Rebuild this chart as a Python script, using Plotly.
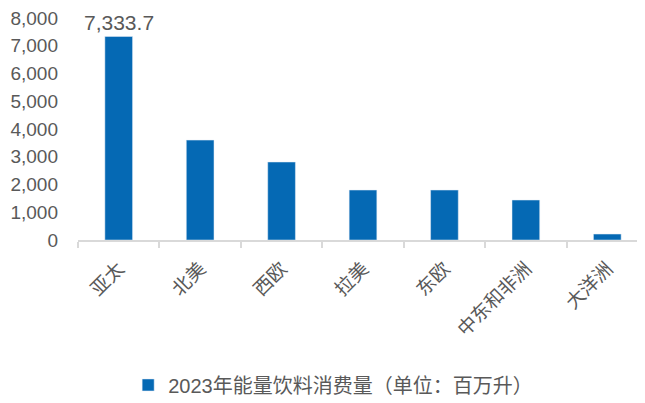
import plotly.graph_objects as go

categories = ["亚太", "北美", "西欧", "拉美", "东欧", "中东和非洲", "大洋洲"]
values = [7333.7, 3600, 2810, 1800, 1800, 1440, 215]
series_name = "2023年能量饮料消费量（单位：百万升）"

font_fam = "Liberation Sans, Arial, Noto Sans CJK SC, sans-serif"
grey = "#595959"

fig = go.Figure()
fig.add_trace(go.Bar(
    x=categories, y=values, name=series_name,
    marker_color="#0569B4",
    cliponaxis=False,
    showlegend=True,
))
fig.add_annotation(
    x=categories[0], y=values[0], text=f"{values[0]:,.1f}",
    showarrow=False, yanchor="bottom", yshift=1, borderpad=0,
    font=dict(size=21, color=grey, family=font_fam),
)
fig.update_layout(
    width=645, height=403,
    margin=dict(l=70, r=5, t=10, b=171, autoexpand=False),
    paper_bgcolor="white", plot_bgcolor="white",
    bargap=0.66,
    font=dict(family=font_fam, color=grey),
    legend=dict(orientation="h", x=0.088, xanchor="left",
                y=-0.653, yanchor="middle",
                font=dict(size=20, color=grey, family="Liberation Sans, Noto Sans CJK SC"),
                itemwidth=30),
)
fig.update_xaxes(
    automargin=False,
    showline=True, linecolor="#D9D9D9", linewidth=2,
    ticks="outside", tickson="boundaries", ticklen=6, tickcolor="#D9D9D9", tickwidth=2,
    tickangle=-45, tickfont=dict(size=19, color=grey, family="Noto Sans CJK SC"),
    ticklabelstandoff=8,
    showgrid=False,
)
fig.update_yaxes(
    automargin=False,
    range=[0, 8000], dtick=1000, tickformat=",d",
    showgrid=False, zeroline=False, showline=False,
    tickfont=dict(size=19, color=grey, family=font_fam),
    ticklabelstandoff=19, ticklabeloverflow="allow",
)
fig.write_html("out.html")
